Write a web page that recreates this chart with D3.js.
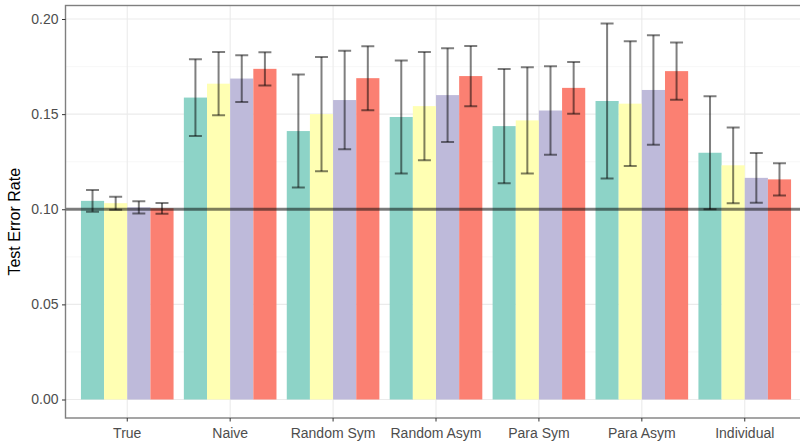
<!DOCTYPE html>
<html>
<head>
<meta charset="utf-8">
<script src="https://cdn.jsdelivr.net/npm/d3@7"></script>
<style>
  html, body { margin: 0; padding: 0; background: #fff; }
  svg { display: block; font-family: "Liberation Sans", Arial, sans-serif; }
</style>
</head>
<body>
<svg id="chart" width="800" height="445"></svg>
<script>
// Methods on the x axis
const categories = ["True", "Naive", "Random Sym", "Random Asym", "Para Sym", "Para Asym", "Individual"];
// Four settings compared within each method
const seriesKeys = ["s1", "s2", "s3", "s4"];
const seriesColors = ["#8DD3C7", "#FFFFB3", "#BEBADA", "#FB8072"];

// Mean test error rate per series (one entry per category)
const mean_s1 = [0.1044, 0.1587, 0.1411, 0.1485, 0.1437, 0.1569, 0.1297];
const mean_s2 = [0.1032, 0.1660, 0.1500, 0.1542, 0.1467, 0.1555, 0.1231];
const mean_s3 = [0.1010, 0.1687, 0.1574, 0.1600, 0.1519, 0.1627, 0.1165];
const mean_s4 = [0.1005, 0.1738, 0.1689, 0.1700, 0.1638, 0.1726, 0.1157];

// Error bar half-widths
const err_s1 = [0.0057, 0.0202, 0.0297, 0.0297, 0.0300, 0.0407, 0.0297];
const err_s2 = [0.0034, 0.0166, 0.0300, 0.0284, 0.0279, 0.0328, 0.0199];
const err_s3 = [0.0032, 0.0123, 0.0259, 0.0246, 0.0233, 0.0288, 0.0131];
const err_s4 = [0.0028, 0.0087, 0.0168, 0.0158, 0.0136, 0.0151, 0.0085];

const yTicks = [0.00, 0.05, 0.10, 0.15, 0.20];
const yMinor = [0.025, 0.075, 0.125, 0.175];
const refLine = 0.10;

const means = [mean_s1, mean_s2, mean_s3, mean_s4];
const errs = [err_s1, err_s2, err_s3, err_s4];

const rows = [];
categories.forEach((c, i) => {
  seriesKeys.forEach((k, j) => {
    rows.push({ cat: c, key: k, color: seriesColors[j], mean: means[j][i], err: errs[j][i] });
  });
});

const svg = d3.select("#chart");
const panel = { left: 65.5, top: 5.5, bottom: 418, right: 806.5 };

const y = d3.scaleLinear().domain([0, 0.2]).range([399.5, 19]);

const x = d3.scaleBand()
  .domain(categories)
  .range([panel.left, panel.right])
  .paddingInner(0.1)
  .paddingOuter(0.15);

const xs = d3.scaleBand().domain(seriesKeys).range([0, x.bandwidth()]).padding(0);

svg.append("defs").append("clipPath").attr("id", "clip")
  .append("rect")
  .attr("x", panel.left).attr("y", panel.top)
  .attr("width", panel.right - panel.left).attr("height", panel.bottom - panel.top);

const g = svg.append("g").attr("clip-path", "url(#clip)");

// panel background grid
g.selectAll(".minor").data(yMinor).join("line")
  .attr("x1", panel.left).attr("x2", panel.right)
  .attr("y1", d => y(d)).attr("y2", d => y(d))
  .attr("stroke", "#F4F4F4").attr("stroke-width", 0.6);

g.selectAll(".major").data(yTicks).join("line")
  .attr("x1", panel.left).attr("x2", panel.right)
  .attr("y1", d => y(d)).attr("y2", d => y(d))
  .attr("stroke", "#EBEBEB").attr("stroke-width", 1.1);

g.selectAll(".vgrid").data(categories).join("line")
  .attr("x1", d => x(d) + x.bandwidth() / 2).attr("x2", d => x(d) + x.bandwidth() / 2)
  .attr("y1", panel.top).attr("y2", panel.bottom)
  .attr("stroke", "#EBEBEB").attr("stroke-width", 1.1);

// bars
g.selectAll(".bar").data(rows).join("rect")
  .attr("x", d => x(d.cat) + xs(d.key))
  .attr("width", xs.bandwidth())
  .attr("y", d => y(d.mean))
  .attr("height", d => y(0) - y(d.mean))
  .attr("fill", d => d.color);

// error bars
const capHalf = xs.bandwidth() * 0.28;
const eb = g.selectAll(".eb").data(rows).join("g")
  .attr("stroke", "#000").attr("stroke-opacity", 0.5).attr("stroke-width", 2);
eb.append("line")
  .attr("x1", d => x(d.cat) + xs(d.key) + xs.bandwidth() / 2)
  .attr("x2", d => x(d.cat) + xs(d.key) + xs.bandwidth() / 2)
  .attr("y1", d => y(d.mean - d.err)).attr("y2", d => y(d.mean + d.err));
eb.append("line")
  .attr("x1", d => x(d.cat) + xs(d.key) + xs.bandwidth() / 2 - capHalf)
  .attr("x2", d => x(d.cat) + xs(d.key) + xs.bandwidth() / 2 + capHalf)
  .attr("y1", d => y(d.mean + d.err)).attr("y2", d => y(d.mean + d.err));
eb.append("line")
  .attr("x1", d => x(d.cat) + xs(d.key) + xs.bandwidth() / 2 - capHalf)
  .attr("x2", d => x(d.cat) + xs(d.key) + xs.bandwidth() / 2 + capHalf)
  .attr("y1", d => y(d.mean - d.err)).attr("y2", d => y(d.mean - d.err));

// reference line
g.append("line")
  .attr("x1", panel.left).attr("x2", panel.right)
  .attr("y1", y(refLine)).attr("y2", y(refLine))
  .attr("stroke", "#000").attr("stroke-opacity", 0.5).attr("stroke-width", 2.8);

// panel border
svg.append("rect")
  .attr("x", panel.left).attr("y", panel.top)
  .attr("width", panel.right - panel.left).attr("height", panel.bottom - panel.top)
  .attr("fill", "none").attr("stroke", "#7F7F7F").attr("stroke-width", 1.4);

// axes
const yAxis = svg.append("g")
  .attr("transform", `translate(${panel.left},0)`)
  .call(d3.axisLeft(y).tickValues(yTicks).tickFormat(d3.format(".2f")).tickSize(3.5).tickPadding(3.5));
yAxis.select(".domain").remove();
yAxis.selectAll(".tick line").attr("stroke", "#333").attr("stroke-width", 1);
yAxis.selectAll(".tick text").attr("fill", "#4D4D4D").style("font-size", "14px");

const xAxis = svg.append("g")
  .attr("transform", `translate(0,${panel.bottom})`)
  .call(d3.axisBottom(x).tickSize(3.5).tickPadding(6.5));
xAxis.select(".domain").remove();
xAxis.selectAll(".tick line").attr("stroke", "#333").attr("stroke-width", 1);
xAxis.selectAll(".tick text").attr("fill", "#4D4D4D").style("font-size", "14px");

svg.append("text")
  .attr("transform", `translate(20,${(panel.top + panel.bottom) / 2 + 10}) rotate(-90)`)
  .attr("text-anchor", "middle")
  .style("font-size", "16px")
  .attr("fill", "#000")
  .text("Test Error Rate");
</script>
</body>
</html>
